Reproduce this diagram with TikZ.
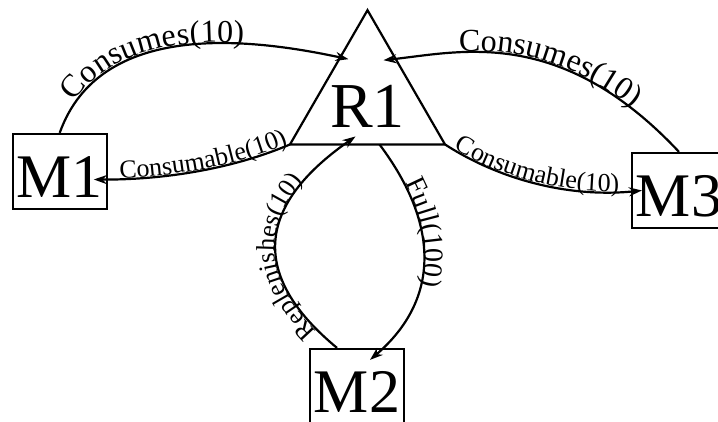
\documentclass[tikz,border=0pt]{standalone}
\usepackage{fontspec}
\setmainfont{Liberation Serif}
\usetikzlibrary{shapes.geometric, arrows.meta, decorations.text}

\begin{document}
\begin{tikzpicture}[
    x=1pt, y=1pt,
    line width=2.2pt,
    >={Stealth[length=13pt,width=9pt]},
    machine/.style={rectangle, draw, minimum width=94pt, minimum height=75pt, inner sep=0pt, text height=52pt, font=\fontsize{62}{62}\selectfont},
    resource/.style={regular polygon, regular polygon sides=3, draw, minimum size=179pt, inner sep=0pt, outer sep=0pt, font=\fontsize{64}{64}\selectfont},
    flow/.style n args={3}{postaction={decorate, decoration={text along path, text align={left, left indent=#3}, raise=1pt, text={|\fontsize{#1}{#1}\selectfont|#2}}}}
  ]
  \useasboundingbox (0,0) rectangle (718,422);

  % Nodes
  \node[resource] (r1) at (367.5,322.3) {\makebox[0pt]{\smash{\raisebox{-28pt}{R1}}}};
  \node[machine] (m1) at (59.7,250.5) {M1};
  \node[machine] (m2) at (357,35.5) {M2};
  \node[machine] (m3) at (679,231.5) {M3};

  % Arrows
  \draw[->, flow={32}{Consumes(10)}{34pt}] (m1.north) .. controls (100,402) and (250,384) .. ([shift={(-19,-49)}]r1.corner 1);
  \draw[<-, flow={26}{Consumable(10)}{26pt}] ([shift={(-14,-8)}]m1.east) .. controls (160,242) and (230,252) .. (r1.corner 2);
  \draw[<-, flow={32}{Consumes(10)}{76pt}] ([shift={(16,-50)}]r1.corner 1) .. controls (460,370) and (560,397) .. (m3.north);
  \draw[->, flow={26}{Consumable(10)}{10pt}] (r1.corner 3) .. controls (500,242) and (570,224) .. ([xshift=11]m3.west);
  \draw[->, flow={26}{Replenishes(10)}{26pt}] ([xshift=-20]m2.north) .. controls (255,142) and (250,212) .. ([shift={(-12,8)}]r1.south);
  \draw[->, flow={28}{Full(100)}{46pt}] ([xshift=12]r1.south) .. controls (440,197) and (440,122) .. ([shift={(13,-12)}]m2.north);

\end{tikzpicture}
\end{document}
